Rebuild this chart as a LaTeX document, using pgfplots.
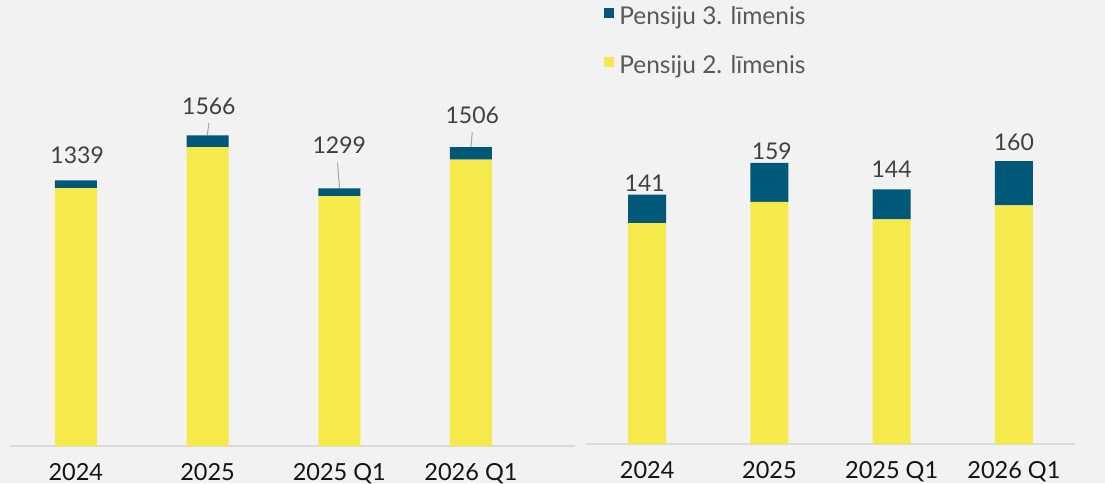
\documentclass[border=0pt]{standalone}
\usepackage{pgfplots}
\pgfplotsset{compat=1.18}
\usepackage{fontspec}
\setmainfont{Lato}
\definecolor{bg}{HTML}{F2F2F2}
\definecolor{p3}{HTML}{005878}
\definecolor{p2}{HTML}{F6E94C}
\definecolor{axl}{HTML}{D9D9D9}
\definecolor{lbl}{HTML}{404040}
\definecolor{leg}{HTML}{595959}
\definecolor{lead}{HTML}{A6A6A6}
\tikzset{dl/.style={font=\fontsize{23}{27}\selectfont, text=lbl, inner sep=0pt, anchor=center}}
\pgfplotsset{
  base/.style={
    scale only axis, anchor=south west, clip=false,
    ybar stacked, ymin=0,
    axis line style={draw=none}, tick style={draw=none},
    ytick=\empty, xtick={0,1,2,3},
    xticklabels={2024,2025,2025 Q1,2026 Q1},
    xticklabel style={font=\fontsize{23.5}{28}\selectfont, text=black!92, anchor=base, inner sep=0pt, yshift=-34pt},
  },
}
\begin{document}
\begin{tikzpicture}[x=1pt,y=1pt]
\fill[bg] (0,0) rectangle (1105,483);
\begin{axis}[base, at={(10pt,37pt)}, width=565pt, height=446pt,
  xmin=-0.5, xmax=3.79, ymax=2248, bar width=42pt]
\addplot[fill=p2, draw=none] coordinates {(0,1300) (1,1506) (2,1259) (3,1444)};
\addplot[fill=p3, draw=none] coordinates {(0,39) (1,60) (2,40) (3,62)};
\draw[axl, line width=1.5pt] (rel axis cs:0,0) -- (rel axis cs:1,0);
\draw[lead, line width=1pt] (axis cs:1.01,1628) -- (axis cs:0.998,1566);
\draw[lead, line width=1pt] (axis cs:1.987,1428) -- (axis cs:2.002,1299);
\draw[lead, line width=1pt] (axis cs:3.01,1584) -- (axis cs:3.0,1506);
\node[dl] at (axis cs:0.01,1467) {1339};
\node[dl] at (axis cs:1.01,1714) {1566};
\node[dl] at (axis cs:2.0,1517) {1299};
\node[dl] at (axis cs:3.01,1668) {1506};
\end{axis}
\begin{axis}[base, at={(586pt,39pt)}, width=489pt, height=442pt,
  xmin=-0.5, xmax=3.5, ymax=250, bar width=38pt,
  reverse legend,
  legend image code/.code={\fill[#1] (0pt,3.5pt) rectangle (10pt,13.5pt);},
  legend style={draw=none, fill=none, inner sep=0pt,
    font=\fontsize{24.5}{28}\selectfont, text=leg,
    legend cell align=left, row sep=30.5pt,
    nodes={inner sep=0pt, text height=0.75em, text depth=0.25em},
    /tikz/every odd column/.append style={column sep=5pt},
    at={(axis description cs:0.037,1.0)}, anchor=north west, yshift=-6pt}]
\addplot[fill=p2, draw=none] coordinates {(0,125) (1,137) (2,127) (3,135)};
\addplot[fill=p3, draw=none] coordinates {(0,16) (1,22) (2,17) (3,25)};
\legend{Pensiju 2. līmenis, Pensiju 3. līmenis}
\draw[axl, line width=1.5pt] (rel axis cs:0,0) -- (rel axis cs:1,0);
\node[dl] at (axis cs:-0.02,147.5) {141};
\node[dl] at (axis cs:1.02,165.6) {159};
\node[dl] at (axis cs:2.0,155.5) {144};
\node[dl] at (axis cs:3.0,170.7) {160};
\end{axis}
\pgfresetboundingbox
\path[use as bounding box] (0,0) rectangle (1105,483);
\end{tikzpicture}
\end{document}
